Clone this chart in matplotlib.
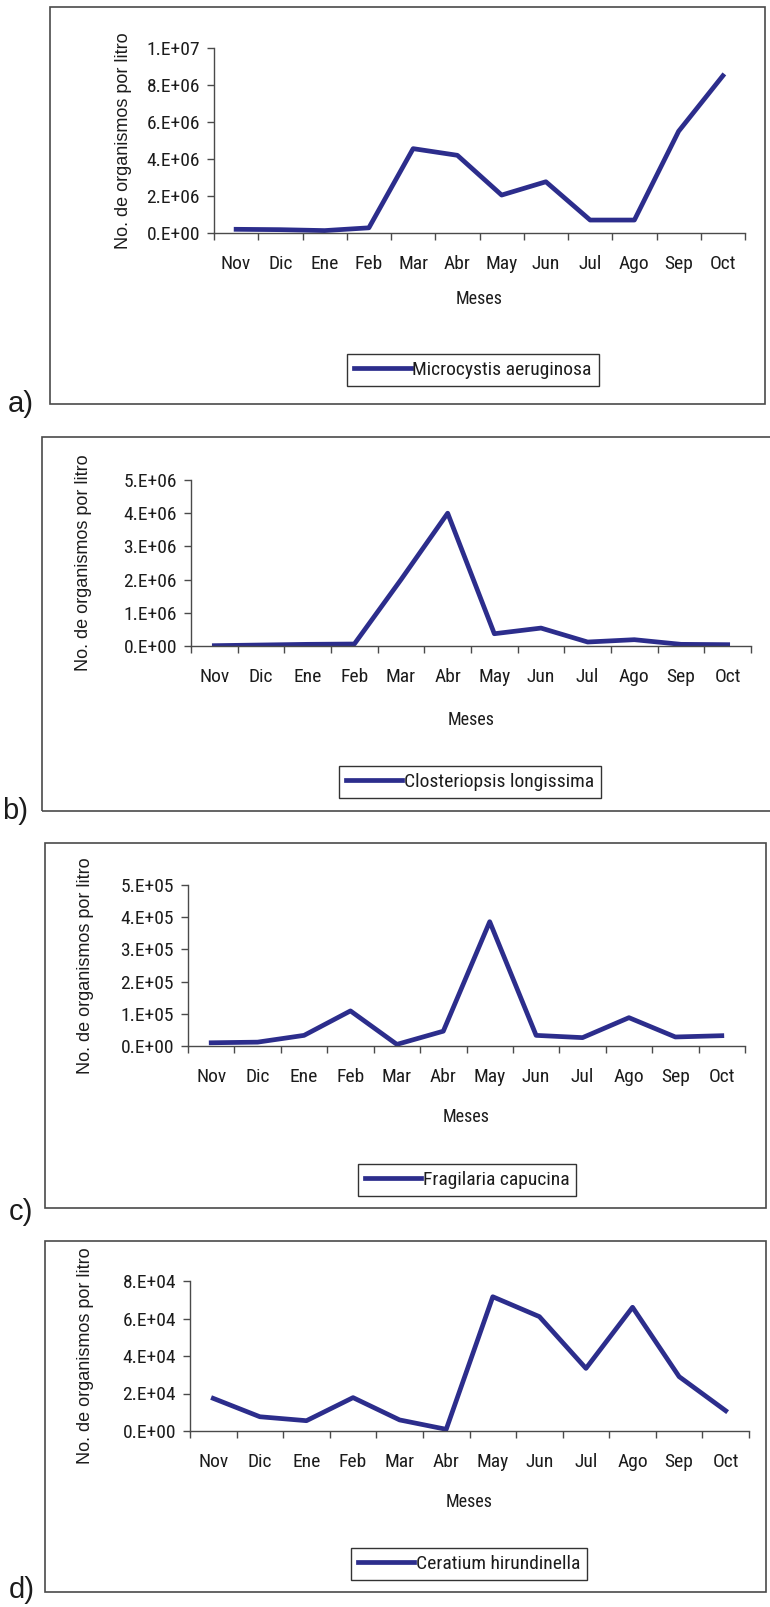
import matplotlib
matplotlib.use('Agg')
import matplotlib.pyplot as plt
from matplotlib import font_manager
from matplotlib.patches import Rectangle

# datos (organismos por litro)
meses = ['Nov', 'Dic', 'Ene', 'Feb', 'Mar', 'Abr', 'May', 'Jun', 'Jul', 'Ago', 'Sep', 'Oct']

microcystis = [2.0e5, 1.8e5, 1.3e5, 2.8e5, 4.56e6, 4.2e6, 2.05e6, 2.77e6, 7.0e5, 7.0e5, 5.5e6, 8.5e6]
closteriopsis = [1.0e4, 3.0e4, 5.0e4, 6.0e4, 2.0e6, 4.0e6, 3.7e5, 5.4e5, 1.2e5, 1.9e5, 5.0e4, 4.0e4]
fragilaria = [1.0e4, 1.2e4, 3.3e4, 1.09e5, 5.0e3, 4.6e4, 3.86e5, 3.3e4, 2.6e4, 8.8e4, 2.8e4, 3.2e4]
ceratium = [1.74e4, 7.6e3, 5.5e3, 1.78e4, 5.9e3, 9.0e2, 7.16e4, 6.1e4, 3.34e4, 6.6e4, 2.9e4, 1.08e4]

especies = ['Microcystis aeruginosa', 'Closteriopsis longissima', 'Fragilaria capucina', 'Ceratium hirundinella']

ticks_a = [0, 2e6, 4e6, 6e6, 8e6, 1e7]
labels_a = ['0.E+00', '2.E+06', '4.E+06', '6.E+06', '8.E+06', '1.E+07']
ticks_b = [0, 1e6, 2e6, 3e6, 4e6, 5e6]
labels_b = ['0.E+00', '1.E+06', '2.E+06', '3.E+06', '4.E+06', '5.E+06']
ticks_c = [0, 1e5, 2e5, 3e5, 4e5, 5e5]
labels_c = ['0.E+00', '1.E+05', '2.E+05', '3.E+05', '4.E+05', '5.E+05']
ticks_d = [0, 2e4, 4e4, 6e4, 8e4]
labels_d = ['0.E+00', '2.E+04', '4.E+04', '6.E+04', '8.E+04']

W, H = 770, 1607
AZUL = '#2c2d8c'
TEXTO = '#1c1c1c'
GRIS = '#4a4a4a'


def fuente_angosta():
    # buscar una fuente condensada instalada, si no hay usar Liberation Sans
    fuentes = font_manager.fontManager.ttflist
    nombres = {f.name for f in fuentes}
    for n in ['Liberation Sans Narrow', 'Roboto Condensed', 'Open Sans Condensed', 'DejaVu Sans Condensed']:
        if n in nombres:
            return {'family': n}, True
    for f in fuentes:
        if f.name == 'DejaVu Sans' and 'condensed' in str(f.stretch) and f.weight in (400, 'normal'):
            return {'family': 'DejaVu Sans', 'stretch': 'condensed'}, True
    return {'family': 'Liberation Sans'}, False


ANGOSTA, ES_ANGOSTA = fuente_angosta()
T_TICK = 14 if ES_ANGOSTA else 13.5
T_LEY = 14 if ES_ANGOSTA else 12.5
T_MESES = 13


def fx(px):
    return px / W


def fy(py):
    return 1 - py / H


def panel(fig, valores, especie, ticks, tick_labels, caja, marco, letra, letra_pos, leyenda_pos, ylabel_dx, xlabel_dy):
    x0, y0, x1, y1 = caja  # pixeles, y desde arriba
    ax = fig.add_axes([fx(x0), fy(y1), (x1 - x0) / W, (y1 - y0) / H])
    ax.plot(range(len(meses)), valores, color=AZUL, lw=3.4, label=especie, solid_joinstyle='round')

    ax.set_xlim(-0.5, len(meses) - 0.5)
    ax.set_ylim(ticks[0], ticks[-1])
    ax.set_yticks(ticks, tick_labels)
    ax.set_xticks(range(len(meses)), meses)
    ax.set_xticks([i - 0.5 for i in range(len(meses) + 1)], minor=True)
    ax.tick_params(axis='x', which='major', length=0, pad=16, labelcolor=TEXTO)
    ax.tick_params(axis='x', which='minor', length=5, width=1, color=GRIS, direction='out')
    ax.tick_params(axis='y', length=5, width=1, color=GRIS, pad=5, labelcolor=TEXTO)
    for lbl in ax.get_xticklabels() + ax.get_yticklabels():
        lbl.set(**ANGOSTA)
        lbl.set_fontsize(T_TICK)

    for s in ['top', 'right']:
        ax.spines[s].set_visible(False)
    for s in ['left', 'bottom']:
        ax.spines[s].set_color(GRIS)
        ax.spines[s].set_linewidth(1)

    ax.set_ylabel('No. de organismos por litro', fontsize=13, family='Liberation Sans', color=TEXTO)
    ax.yaxis.set_label_coords(ylabel_dx / (x1 - x0), 0.5)
    ax.yaxis.label.set_va('center')
    ax.set_xlabel('Meses', fontsize=T_MESES, color=TEXTO, **ANGOSTA)
    ax.xaxis.set_label_coords(0.5, -xlabel_dy / (y1 - y0))
    ax.xaxis.label.set_va('center')

    prop = font_manager.FontProperties(size=T_LEY, **ANGOSTA)
    leg = ax.legend(loc='center', bbox_to_anchor=(fx(leyenda_pos[0]), fy(leyenda_pos[1])),
                    bbox_transform=fig.transFigure, fancybox=False, framealpha=1, edgecolor='#333333',
                    handlelength=2.9, handletextpad=0.1, borderpad=0.35, prop=prop)
    leg.get_frame().set_linewidth(1.0)
    for t in leg.get_texts():
        t.set_color(TEXTO)

    # marco del panel
    mx0, my0, mx1, my1 = marco
    fig.add_artist(Rectangle((fx(mx0), fy(my1)), (mx1 - mx0) / W, (my1 - my0) / H,
                             transform=fig.transFigure, fill=False, edgecolor=GRIS, lw=1.2))
    fig.text(fx(letra_pos[0]), fy(letra_pos[1]), letra, fontsize=21, family='Liberation Sans',
             color=TEXTO, ha='center', va='center')
    return ax


def main():
    fig = plt.figure(figsize=(W / 100, H / 100), dpi=100)
    fig.patch.set_facecolor('white')

    panel(fig, microcystis, especies[0], ticks_a, labels_a, (214, 48, 745, 233), (50, 7, 765, 404),
          'a)', (21, 404), (473, 370), -91, 66)
    panel(fig, closteriopsis, especies[1], ticks_b, labels_b, (191, 480, 751, 646), (42, 437, 775, 811),
          'b)', (15, 811), (470, 782), -107, 74)
    panel(fig, fragilaria, especies[2], ticks_c, labels_c, (188, 885, 745, 1046), (45, 843, 766, 1208),
          'c)', (21, 1212), (467, 1180), -102, 71)
    panel(fig, ceratium, especies[3], ticks_d, labels_d, (190, 1281, 749, 1431), (45, 1241, 766, 1592),
          'd)', (22, 1590), (469, 1564), -104, 71)

    fig.savefig('out.png', dpi=100)


if __name__ == '__main__':
    main()
